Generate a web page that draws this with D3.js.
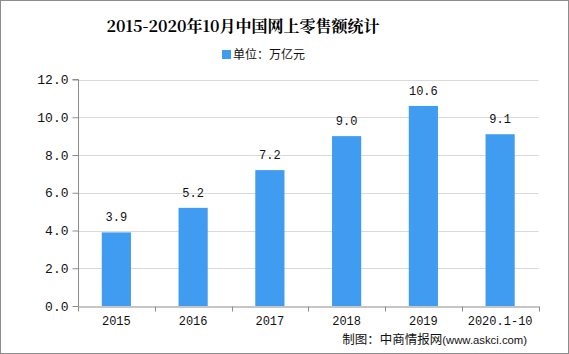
<!DOCTYPE html>
<html><head><meta charset="utf-8">
<script src="https://cdn.jsdelivr.net/npm/d3@7"></script>
<style>body{margin:0;background:#fff}svg{display:block}</style>
</head><body>
<script>
const categories = ["2015","2016","2017","2018","2019","2020.1-10"];
const values = [3.9, 5.2, 7.2, 9.0, 10.6, 9.1];
const yTicks = [0,2,4,6,8,10,12];
const title = "2015-2020年10月中国网上零售额统计";
const legendLabel = "单位：万亿元";
const sourceCn = "制图：中商情报网";
const sourceEn = "(www.askci.com)";

const W=569,H=354;
const svg=d3.select("body").append("svg").attr("width",W).attr("height",H);
svg.append("rect").attr("x",0.5).attr("y",0.5).attr("width",W-1).attr("height",H-1).attr("fill","#fff").attr("stroke","#8c8c8c");

const m={l:78,r:538.5,t:79.5,b:306};
const x=d3.scaleBand().domain(categories).range([m.l,m.r]).paddingInner(0.62).paddingOuter(0.31);
const y=d3.scaleLinear().domain([0,12]).range([m.b,m.t]);
const monoFont="'Liberation Mono','DejaVu Sans Mono',monospace";

// grid
svg.append("g").selectAll("line").data(yTicks.filter(d=>d>0)).join("line")
 .attr("x1",m.l).attr("x2",m.r).attr("y1",d=>Math.round(y(d))+0.5).attr("y2",d=>Math.round(y(d))+0.5)
 .attr("stroke","#d9d9d9");

// y axis
const ya=svg.append("g").attr("transform",`translate(${m.l+0.5},0)`)
 .call(d3.axisLeft(y).tickValues(yTicks).tickFormat(d3.format(".1f")).tickSize(6).tickPadding(4));
ya.select(".domain").attr("stroke","#8c8c8c").attr("d",`M-6,${m.t}H0V${m.b}`);
ya.selectAll(".tick line").attr("stroke","#8c8c8c");
ya.selectAll("text").attr("font-family",monoFont).attr("font-size",13).attr("fill","#111");

// bars
svg.append("g").selectAll("rect").data(values).join("rect")
 .attr("x",(d,i)=>x(categories[i])).attr("width",x.bandwidth())
 .attr("y",d=>y(d)).attr("height",d=>y(0)-y(d)).attr("fill","#3f9cf0");

// x axis
const xa=svg.append("g").attr("transform",`translate(0,${m.b+0.5})`)
 .call(d3.axisBottom(x).tickSize(0).tickPadding(10));
xa.select(".domain").attr("stroke","#8c8c8c");
xa.selectAll(".tick text").attr("font-family",monoFont).attr("font-size",12).attr("fill","#111");
const bounds=[m.l, ...categories.map(c=>x(c)-x.step()*x.paddingInner()/2+x.step())];
xa.selectAll(".sep").data(bounds).join("line").attr("class","sep")
 .attr("x1",d=>Math.round(d)+0.5).attr("x2",d=>Math.round(d)+0.5).attr("y1",0).attr("y2",5).attr("stroke","#8c8c8c");

// value labels
svg.append("g").selectAll("text").data(values).join("text")
 .attr("x",(d,i)=>x(categories[i])+x.bandwidth()/2).attr("y",d=>y(d)-11)
 .attr("text-anchor","middle").attr("font-family",monoFont).attr("font-size",12).attr("fill","#111")
 .text(d=>d.toFixed(1));

// title
svg.append("text").attr("x",243).attr("y",32).attr("text-anchor","middle")
 .attr("font-family","'Noto Serif CJK SC','Noto Sans CJK SC',serif").attr("font-weight","bold").attr("font-size",16).attr("fill","#000")
 .text(title);

// legend
svg.append("rect").attr("x",222).attr("y",50).attr("width",9).attr("height",9).attr("fill","#3f9cf0");
svg.append("text").attr("x",233).attr("y",59).attr("font-family","'Noto Sans CJK SC',sans-serif").attr("font-size",12).attr("fill","#111").text(legendLabel);

// source
const st=svg.append("text").attr("x",527).attr("y",344).attr("text-anchor","end").attr("fill","#111");
st.append("tspan").attr("font-family","'Noto Sans CJK SC',sans-serif").attr("font-size",12.5).text(sourceCn);
st.append("tspan").attr("font-family","'Liberation Sans',sans-serif").attr("font-size",11.3).text(sourceEn);
</script>
</body></html>
